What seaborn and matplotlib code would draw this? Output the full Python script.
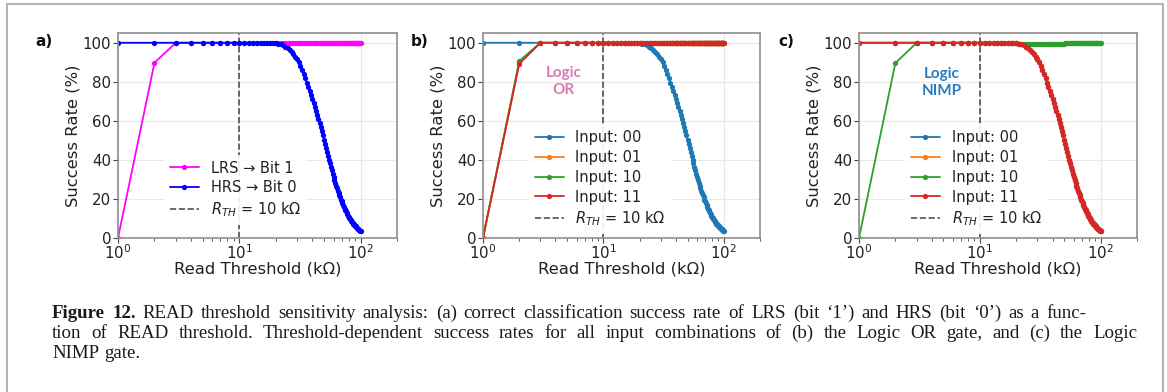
import matplotlib
matplotlib.use("Agg")
import matplotlib.pyplot as plt
import seaborn as sns
import numpy as np
from matplotlib.lines import Line2D
from matplotlib.font_manager import FontProperties

# ---------------------------------------------------------------- data
read_threshold_kohm = np.arange(1, 101)          # swept READ threshold (kOhm)
r_th = 10                                         # nominal READ threshold (kOhm)

# HRS success rate for thresholds 21..100 kOhm (100 % below that)
hrs_tail = [99.6, 99.2, 98.6, 97.9, 97.1, 96.2, 95.2, 94.1, 92.9, 91.5,
            89.9, 88.1, 86.2, 84.0, 81.7, 79.6, 77.5, 75.5, 73.4, 71.3,
            69.3, 67.2, 65.1, 63.0, 60.9, 58.8, 56.7, 54.6, 52.5, 50.4,
            48.3, 46.2, 44.2, 42.2, 40.2, 38.3, 36.4, 34.6, 32.9, 31.2,
            29.6, 28.2, 26.8, 25.5, 24.3, 23.0, 21.9, 20.8, 19.7, 18.7,
            17.7, 16.8, 16.0, 15.1, 14.3, 13.6, 12.9, 12.2, 11.5, 10.9,
            10.3, 9.8, 9.3, 8.8, 8.3, 7.8, 7.4, 7.0, 6.6, 6.3,
            5.9, 5.6, 5.3, 5.0, 4.7, 4.5, 4.2, 4.0, 3.8, 3.6]

lrs_rate = [0.0, 89.8] + [100.0] * 98
hrs_rate = [100.0] * 20 + hrs_tail

or_input00 = [100.0] * 20 + hrs_tail
or_input01 = [0.0, 90.0] + [100.0] * 98
or_input10 = [0.0, 90.6] + [100.0] * 98
or_input11 = [0.0, 89.2] + [100.0] * 98

nimp_input00 = [100.0] * 20 + hrs_tail
nimp_input01 = [100.0] * 20 + hrs_tail
nimp_input10 = [0.0, 89.6] + [100.0] * 18 + [99.6] * 30 + [99.8] * 25 + [100.0] * 25
nimp_input11 = [100.0] * 20 + hrs_tail

input_labels = ["Input: 00", "Input: 01", "Input: 10", "Input: 11"]
y_ticks = [0, 20, 40, 60, 80, 100]

caption_lines = [
    "Figure 12. READ threshold sensitivity analysis: (a) correct classification success rate of LRS (bit \u20181\u2019) and HRS (bit \u20180\u2019) as a func-",
    "tion of READ threshold. Threshold-dependent success rates for all input combinations of (b) the Logic OR gate, and (c) the Logic",
    "NIMP gate.",
]

# ---------------------------------------------------------------- style
sns.set_theme(style="whitegrid")
plt.rcParams["font.family"] = ["DejaVu Sans"]
plt.rcParams["mathtext.fontset"] = "dejavusans"

W, H = 1167, 392
fig = plt.figure(figsize=(W / 100, H / 100), dpi=100)
fig.patch.set_facecolor("white")


def axes_px(l, t, r, b):
    return fig.add_axes([l / W, 1 - b / H, (r - l) / W, (b - t) / H])


tab = sns.color_palette("tab10")
input_colors = [tab[0], tab[1], tab[2], tab[3]]
rth_label = r"$R_{TH}$ = 10 k$\Omega$"


def style_axes(ax):
    ax.set_xscale("log")
    ax.set_xlim(1, 200)
    ax.set_ylim(0, 105)
    ax.set_yticks(y_ticks)
    ax.grid(True, which="major", color="#e8e8e8", linewidth=0.8)
    ax.grid(False, which="minor")
    for s in ax.spines.values():
        s.set_color("#8f8f8f")
        s.set_linewidth(1.2)
    ax.tick_params(axis="both", which="major", bottom=True, left=True,
                   length=3.5, width=0.8, color="#444444", labelsize=10.8,
                   labelcolor="#222222")
    ax.tick_params(axis="x", which="major", pad=0)
    ax.tick_params(axis="y", which="major", pad=1.5)
    ax.tick_params(axis="x", which="minor", bottom=True, length=2,
                   width=0.6, color="#444444")
    ax.set_xlabel("Read Threshold (k\u03a9)", fontsize=11.8, labelpad=0,
                  color="#222222")
    ax.set_ylabel("Success Rate (%)", fontsize=11.8, labelpad=1.5,
                  color="#222222")
    ax.axvline(r_th, color="#333333", linestyle="--", linewidth=1.2,
               alpha=0.85, label=rth_label)


def add_legend(ax, labels, anchor):
    h, l = ax.get_legend_handles_labels()
    order = [l.index(s) for s in labels] + [l.index(rth_label)]
    ax.legend([h[i] for i in order], [l[i] for i in order],
              loc="lower left", bbox_to_anchor=anchor, borderaxespad=0,
              fontsize=10.5, labelspacing=0.33, handlelength=2.0,
              handletextpad=0.8, frameon=True, framealpha=0.9,
              edgecolor="none", facecolor="white", labelcolor="#222222")


line_kw = dict(marker="o", markersize=3.8, markeredgewidth=0, linewidth=1.3)

# ---------------------------------------------------------------- (a)
ax_a = axes_px(118, 33, 397, 238)
style_axes(ax_a)
sns.lineplot(x=read_threshold_kohm, y=lrs_rate, ax=ax_a, color="#ff00ff",
             label="LRS \u2192 Bit 1", **line_kw)
sns.lineplot(x=read_threshold_kohm, y=hrs_rate, ax=ax_a, color="#0000ff",
             label="HRS \u2192 Bit 0", **line_kw)
add_legend(ax_a, ["LRS \u2192 Bit 1", "HRS \u2192 Bit 0"], (0.165, 0.065))

# ---------------------------------------------------------------- (b)
ax_b = axes_px(483, 33, 760, 238)
style_axes(ax_b)
for vals, lab, col in zip([or_input00, or_input01, or_input10, or_input11],
                          input_labels, input_colors):
    sns.lineplot(x=read_threshold_kohm, y=vals, ax=ax_b, color=col,
                 label=lab, **line_kw)
add_legend(ax_b, input_labels, (0.165, 0.02))
ax_b.text(4.7, 80, "Logic\nOR", ha="center", va="center", color="#d77ab4",
          fontweight="bold", family="Lato", fontsize=11, linespacing=1.3)

# ---------------------------------------------------------------- (c)
ax_c = axes_px(859, 33, 1137, 238)
style_axes(ax_c)
for vals, lab, col in zip([nimp_input00, nimp_input01, nimp_input10, nimp_input11],
                          input_labels, input_colors):
    sns.lineplot(x=read_threshold_kohm, y=vals, ax=ax_c, color=col,
                 label=lab, **line_kw)
add_legend(ax_c, input_labels, (0.165, 0.02))
ax_c.text(4.85, 79.5, "Logic\nNIMP", ha="center", va="center", color="#2a7bbd",
          fontweight="bold", family="Lato", fontsize=11, linespacing=1.3)

# ---------------------------------------------------------------- panel tags
for tag, xpx in [("a)", 35), ("b)", 411), ("c)", 778)]:
    fig.text(xpx / W, 1 - 42 / H, tag, fontsize=11, fontweight="bold",
             va="center", ha="left", color="#111111")

# ---------------------------------------------------------------- page frame
frame_kw = dict(color="#b4b4b4", linewidth=1.5, transform=fig.transFigure)
fig.add_artist(Line2D([7 / W, 1163 / W], [1 - 4 / H, 1 - 4 / H], **frame_kw))
fig.add_artist(Line2D([7 / W, 7 / W], [1 - 4 / H, 0], **frame_kw))
fig.add_artist(Line2D([1163 / W, 1163 / W], [1 - 4 / H, 0], **frame_kw))

# ---------------------------------------------------------------- caption
renderer = fig.canvas.get_renderer()
CAP_SIZE = 13.6
cap_kw = dict(family="Liberation Serif", fontsize=CAP_SIZE, va="center",
              ha="left", color="#1a1a1a")
cap_fp = FontProperties(family="Liberation Serif", size=CAP_SIZE)
space_w = (renderer.get_text_width_height_descent("a a", cap_fp, ismath=False)[0]
           - renderer.get_text_width_height_descent("aa", cap_fp, ismath=False)[0])


def caption_line(text, y_px, x_left, x_right=None, bold_words=0):
    """Draw one caption line word by word; justify it when x_right is set."""
    words = text.split(" ")
    objs = [fig.text(0, 1 - y_px / H, w,
                     fontweight="bold" if i < bold_words else "normal",
                     **cap_kw) for i, w in enumerate(words)]
    widths = [o.get_window_extent(renderer).width for o in objs]
    if x_right is None:
        gap = space_w
    else:
        gap = (x_right - x_left - sum(widths)) / (len(words) - 1)
    x = x_left
    for o, w in zip(objs, widths):
        o.set_x(x / W)
        x += w + gap


caption_line(caption_lines[0], 313, 52, 1086, bold_words=2)
caption_line(caption_lines[1], 333, 52, 1137)
caption_line(caption_lines[2], 353, 52)

fig.savefig("out.png", dpi=100, facecolor="white")
